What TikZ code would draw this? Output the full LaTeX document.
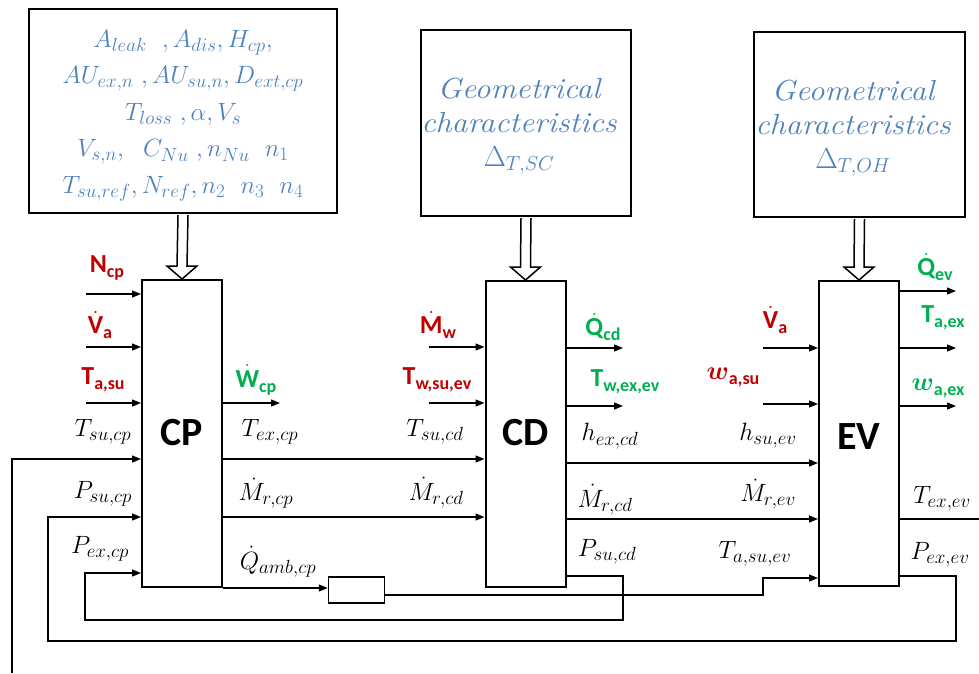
\RequirePackage{fix-cm}
\documentclass[tikz,border=0pt]{standalone}
\usepackage{fontspec}
\usepackage{amsmath,bm,graphicx}
\newfontfamily\carl{Carlito}
\usetikzlibrary{arrows.meta,calc}
\DeclareMathSizes{25}{25}{19}{15}
\definecolor{bl}{RGB}{79,129,189}
\definecolor{rd}{RGB}{192,0,0}
\definecolor{gr}{RGB}{0,176,80}
\newcommand\bsub[2]{#1\raisebox{-5pt}{\fontsize{18}{18}\selectfont #2}}
\newcommand\dt[1]{$\dot{\hbox{#1}}$}
\newcommand\wide[1]{\scalebox{1.1}[1]{#1}}
\newcommand\hollowarr[2]{%
\draw[hol] ($(#1.south)+(-5,1)$) -- ($(#2.north)+(-5,-13)$) -- ($(#2.north)+(-15,-13)$) -- (#2.north) -- ($(#2.north)+(15,-13)$) -- ($(#2.north)+(5,-13)$) -- ($(#1.south)+(5,1)$);}
\begin{document}
\begin{tikzpicture}[x=1pt,y=-1pt,
 blk/.style={draw,line width=2pt,inner sep=0pt,fill=white},
 conn/.style={line width=1.3pt},
 arr/.style={conn,-{Triangle[length=9pt,width=7pt]}},
 hol/.style={line width=1.5pt,fill=white,line join=miter},
 lab/.style={font=\fontsize{25}{28}\selectfont,inner sep=0pt},
 rlab/.style={font=\carl\bfseries\fontsize{26}{28}\selectfont,text=rd,inner sep=0pt},
 glab/.style={rlab,text=gr},
 big/.style={font=\carl\bfseries\fontsize{40}{44}\selectfont,inner sep=0pt},
 bltxt/.style={text=bl,align=center,inner sep=0pt}]
\useasboundingbox (0,0) rectangle (979,673);
\fill[white] (0,0) rectangle (979,673);

% parameter boxes
\node[blk,minimum width=308pt,minimum height=204pt] (par) at (183,111) {};
\node[bltxt,font=\fontsize{25}{36.5}\selectfont] (partxt) at (183,116) {%
$A_{leak}\ \ ,A_{dis}, H_{cp},$\\
$AU_{ex,n}\ , AU_{su,n}, D_{ext,cp}$\\
$T_{loss}\ , \alpha, V_s$\\
$V_{s,n},\ \ C_{Nu}\ , n_{Nu}\ \ n_1$\\
$T_{su,ref}, N_{ref}, n_2\ \ n_3\ \ n_4$};

\node[blk,minimum width=210pt,minimum height=186pt] (sc) at (526,123) {};
\node[bltxt,font=\itshape\fontsize{29}{34}\selectfont] (sctxt) at (519,126) {\wide{Geometrical}\\\wide{characteristics}\\$\Delta_{T,SC}$};
\node[blk,minimum width=211pt,minimum height=185pt] (oh) at (859.5,124.5) {};
\node[bltxt,font=\itshape\fontsize{29}{34}\selectfont] (ohtxt) at (853,128) {\wide{Geometrical}\\\wide{characteristics}\\$\Delta_{T,OH}$};

% component blocks
\node[blk,minimum width=80pt,minimum height=307pt] (cp) at (182,433.5) {};
\node[blk,minimum width=80pt,minimum height=306pt] (cd) at (525.5,434) {};
\node[blk,minimum width=80pt,minimum height=305pt] (ev) at (859,433.5) {};
\node[big] (cpl) at (182,433) {CP};
\node[big] (cdl) at (526,433) {CD};
\node[big] (evl) at (859,437) {EV};

\hollowarr{par}{cp}
\hollowarr{sc}{cd}
\hollowarr{oh}{ev}

% small box
\node[draw,line width=1.5pt,minimum width=56pt,minimum height=26pt,inner sep=0pt] (amb) at (356.5,590) {};

% CP inputs
\coordinate (i1) at (86,294);
\coordinate (i2) at (86,347);
\coordinate (i3) at (86,403);
\draw[arr] (i1) -- (i1 -| cp.west);
\draw[arr] (i2) -- (i2 -| cp.west);
\draw[arr] (i3) -- (i3 -| cp.west);
\coordinate (o1) at (280,403);
\draw[arr] (cp.east |- o1) -- (o1);

% CD inputs/outputs
\coordinate (j1) at (429,347);
\coordinate (j2) at (429,403);
\draw[arr] (j1) -- (j1 -| cd.west);
\draw[arr] (j2) -- (j2 -| cd.west);
\coordinate (p1) at (623,348);
\coordinate (p2) at (623,406);
\draw[arr] (cd.east |- p1) -- (p1);
\draw[arr] (cd.east |- p2) -- (p2);

% EV inputs/outputs
\coordinate (k1) at (763,348);
\coordinate (k2) at (763,404);
\draw[arr] (k1) -- (k1 -| ev.west);
\draw[arr] (k2) -- (k2 -| ev.west);
\coordinate (q1) at (956,291);
\coordinate (q2) at (956,348);
\coordinate (q3) at (956,406);
\draw[arr] (ev.east |- q1) -- (q1);
\draw[arr] (ev.east |- q2) -- (q2);
\draw[arr] (ev.east |- q3) -- (q3);

% flows between blocks
\draw[arr] (cp.east |- 0,459) -- (cd.west |- 0,459);
\draw[arr] (cp.east |- 0,517) -- (cd.west |- 0,517);
\draw[arr] (cd.east |- 0,463) -- (ev.west |- 0,463);
\draw[arr] (cd.east |- 0,519) -- (ev.west |- 0,519);
\coordinate (tend) at (979,519);
\draw[conn] (ev.east |- tend) -- (tend);
\coordinate (tsu) at (12,673);
\draw[arr] (tsu) |- (cp.west |- 0,459);
\draw[arr] (cp.south east) -- (cp.south east -| amb.west);
\draw[arr] (amb.east |- 0,595) -- (763,595) -- (763,578) -- (ev.west |- 0,578);
\draw[arr] (cd.east |- 0,576) -| (623,620) -| (85,573) -- (cp.west |- 0,573);
\draw[arr] (ev.east |- 0,576) -| (956,641) -| (48,517) -- (cp.west |- 0,517);

% red / green labels
\node[rlab] (lncp) at (107,268) {\bsub{N}{cp}};
\node[rlab] (lva) at (100,325) {\bsub{\dt{V}}{a}};
\node[rlab] (ltasu) at (103,380) {\bsub{T}{a,su}};
\node[glab] (lwcp) at (256,380) {\bsub{\dt{W}}{cp}};
\node[rlab] (lmw) at (438,325) {\bsub{\dt{M}}{w}};
\node[rlab] (ltw) at (437,380) {\bsub{T}{w,su,ev}};
\node[glab] (lqcd) at (603,327) {\bsub{\dt{Q}}{cd}};
\node[glab] (ltwex) at (625,382) {\bsub{T}{w,ex,ev}};
\node[rlab] (lva2) at (775,320) {\bsub{\dt{V}}{a}};
\node[rlab] (lwasu) at (733,377) {\bsub{$\bm{w}$}{a,su}};
\node[glab] (lqev) at (935,267) {\bsub{\dt{Q}}{ev}};
\node[glab] (ltaex) at (943,318) {\bsub{T}{a,ex}};
\node[glab] (lwaex) at (938,388) {\bsub{$\bm{w}$}{a,ex}};

% black labels
\node[lab] (l1) at (103,432) {$T_{su,cp}$};
\node[lab] (l2) at (103,494) {$P_{su,cp}$};
\node[lab] (l3) at (100,549) {$P_{ex,cp}$};
\node[lab] (l4) at (270,432) {$T_{ex,cp}$};
\node[lab] (l5) at (266,493) {$\dot{M}_{r,cp}$};
\node[lab] (l6) at (278,562) {$\dot{Q}_{amb,cp}$};
\node[lab] (l7) at (435,432) {$T_{su,cd}$};
\node[lab] (l8) at (436,493) {$\dot{M}_{r,cd}$};
\node[lab] (l9) at (610,436) {$h_{ex,cd}$};
\node[lab] (l10) at (605,500) {$\dot{M}_{r,cd}$};
\node[lab] (l11) at (607,552) {$P_{su,cd}$};
\node[lab] (l12) at (768,436) {$h_{su,ev}$};
\node[lab] (l13) at (768,494) {$\dot{M}_{r,ev}$};
\node[lab] (l14) at (755,554) {$T_{a,su,ev}$};
\node[lab] (l15) at (942,499) {$T_{ex,ev}$};
\node[lab] (l16) at (940,555) {$P_{ex,ev}$};
\end{tikzpicture}
\end{document}
